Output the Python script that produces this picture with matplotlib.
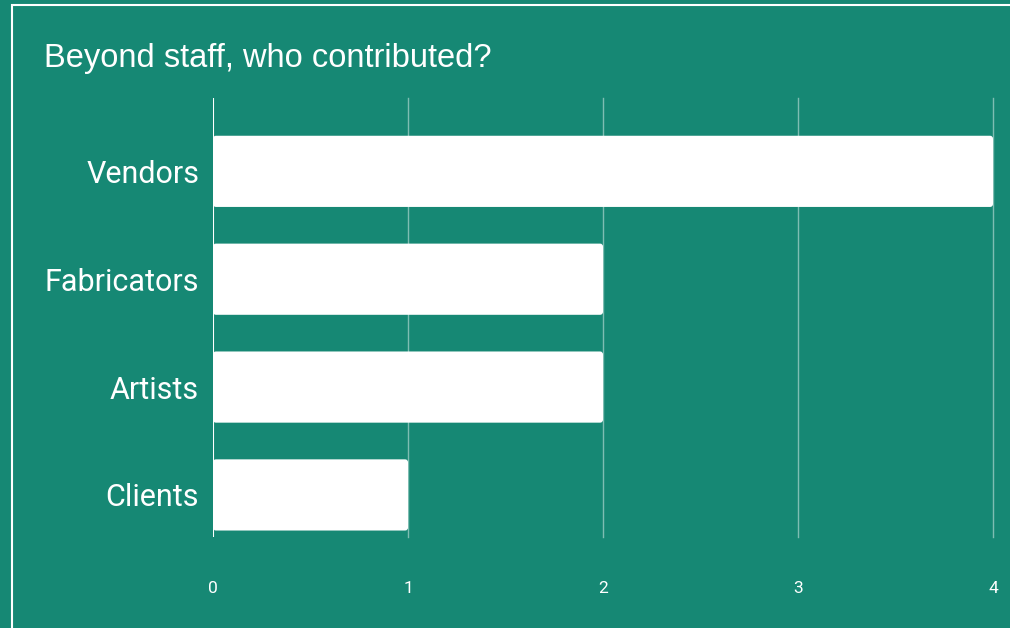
import matplotlib.pyplot as plt
from matplotlib.patches import FancyBboxPatch, Rectangle

categories = ["Vendors", "Fabricators", "Artists", "Clients"]
counts = [4, 2, 2, 1]
x_ticks = [0, 1, 2, 3, 4]

bg = "#168874"

fig = plt.figure(figsize=(10.1, 6.28), dpi=100)
fig.patch.set_facecolor(bg)

# white frame around the chart
fig.patches.append(Rectangle((12 / 1010, -0.1), 1.2, 1 - 5 / 628 + 0.1,
                             transform=fig.transFigure, fill=False,
                             edgecolor="white", linewidth=1.5))

ax = fig.add_axes([213 / 1010, 1 - 537 / 628, 780 / 1010, 439 / 628])
ax.set_facecolor(bg)

bars = ax.barh(range(len(categories)), counts, height=0.66, color="white")
# swap plain bars for slightly rounded ones
for b in bars:
    x0, y0 = b.get_x(), b.get_y()
    w, h = b.get_width(), b.get_height()
    b.set_visible(False)
    ax.add_patch(FancyBboxPatch((x0, y0), w, h,
                                boxstyle="round,pad=0,rounding_size=0.015",
                                mutation_aspect=195 / 108,
                                facecolor="white", edgecolor="none", zorder=2))

ax.set_xlim(0, 4)
ax.set_ylim(3.39, -0.68)

for x in x_ticks[1:]:
    ax.axvline(x, color="white", alpha=0.45, linewidth=1, zorder=1,
               clip_on=False)
ax.axvline(0, color="white", linewidth=1.5, zorder=3)

for s in ax.spines.values():
    s.set_visible(False)

ax.set_xticks(x_ticks)
ax.set_xticklabels([str(v) for v in x_ticks])
ax.set_yticks(range(len(categories)))
ax.set_yticklabels(categories)
ax.tick_params(length=0)
ax.tick_params(axis="x", colors="white", labelsize=12.5, pad=32)
ax.tick_params(axis="y", colors="white", labelsize=22, pad=10)
for t in ax.get_xticklabels() + ax.get_yticklabels():
    t.set_fontfamily("Roboto")
    t.set_color("white")

fig.text(44 / 1010, 1 - 58 / 628, "Beyond staff, who contributed?",
         color="white", fontsize=23.5, fontfamily="Liberation Sans", va="center")

plt.savefig("out.png", dpi=100, facecolor=bg)
